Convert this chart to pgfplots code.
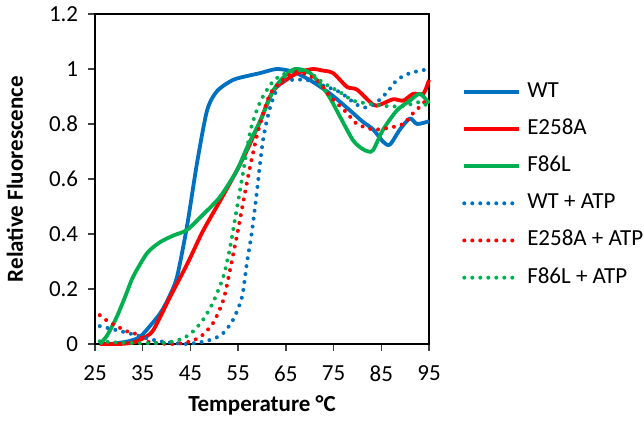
\documentclass[border=0pt]{standalone}
\usepackage{pgfplots}
\pgfplotsset{compat=1.18}
\usepackage{fontspec}
\setmainfont{Carlito}
\definecolor{cblue}{HTML}{0070C0}
\definecolor{cred}{HTML}{FF0000}
\definecolor{cgreen}{HTML}{00B050}
\definecolor{axgray}{HTML}{404040}
\begin{document}
\fontsize{23}{27}\selectfont
\begin{tikzpicture}[x=1pt,y=1pt]
\useasboundingbox (0,0) rectangle (644,426);
\begin{axis}[
  at={(95pt,82pt)}, anchor=south west,
  scale only axis, width=334pt, height=330pt,
  xmin=25, xmax=95, ymin=0, ymax=1.2,
  xtick={25,35,...,95},
  ytick={0,0.2,...,1.2},
  yticklabels={0,0.2,0.4,0.6,0.8,1,1.2},
  tick pos=left, tick align=outside, major tick length=7pt,
  axis line style={black, line width=1.4pt},
  every tick/.style={axgray, line width=1.4pt},
  /pgf/number format/assume math mode=true,
  ticklabel style={font=\fontsize{23}{27}\selectfont},
  xticklabel style={yshift=-7pt},
  yticklabel style={xshift=-2pt},
  clip=false,
  xlabel={\textbf{Temperature °C}},
  ylabel={\textbf{Relative Fluorescence}},
  xlabel style={at={(axis description cs:0.5,-0.185)}, anchor=center, font=\fontsize{23}{27}\selectfont},
  ylabel style={at={(axis description cs:-0.24,0.5)}, anchor=center, font=\fontsize{23}{27}\selectfont},
  legend style={at={(1.099,0.797)}, anchor=north west, draw=none, fill=none, inner sep=0pt,
     row sep=16.2pt, column sep=6pt, font=\fontsize{23}{27}\selectfont,
     nodes={inner sep=0pt, text height=16pt, text depth=5pt}},
  legend cell align=left,
  legend image code/.code={\draw[#1] (0pt,0pt) -- (55pt,0pt);},
  solidl/.style={line width=3.8pt, smooth, tension=0.45, line join=round},
  dotl/.style={line width=4pt, smooth, tension=0.45, line cap=round, dash pattern=on 0pt off 8pt},
]
\addplot[cblue, solidl] coordinates {(26,0) (28,0) (30,0.004) (32,0.01) (33.8,0.02) (35,0.035) (38.6,0.11) (40.5,0.17) (42.2,0.245) (44.3,0.43) (46.4,0.66) (48.5,0.85) (50.6,0.92) (53.9,0.96) (57,0.975) (59.6,0.985) (63.1,1.0) (66.5,0.99) (70,0.96) (74.3,0.91) (78.4,0.85) (81,0.81) (83.3,0.78) (85.4,0.735) (86.8,0.725) (88.9,0.78) (91,0.82) (92.5,0.80) (95,0.81)};
\addlegendentry{WT}
\addplot[cred, solidl] coordinates {(26,0) (30,0) (33,0.005) (35,0.02) (37.2,0.05) (40.7,0.17) (44.3,0.29) (47.6,0.41) (51.2,0.52) (54.7,0.63) (57,0.71) (59.6,0.81) (62.3,0.92) (65.9,0.97) (68,0.99) (70.7,1.0) (72.5,0.995) (74.9,0.985) (77.8,0.935) (79.9,0.925) (83.3,0.87) (84.7,0.87) (87.5,0.89) (89.6,0.885) (91.7,0.91) (93.8,0.91) (95,0.96)};
\addlegendentry{E258A}
\addplot[cgreen, solidl] coordinates {(26,0) (27.5,0.03) (29.6,0.1) (31.5,0.18) (33,0.245) (35.9,0.33) (38.6,0.37) (41.5,0.395) (44.3,0.415) (47.6,0.47) (51.2,0.535) (54.7,0.63) (57,0.72) (59.6,0.81) (62.3,0.92) (64.5,0.97) (66.9,1.0) (70.1,0.985) (73.7,0.91) (76.4,0.825) (79.1,0.74) (81,0.71) (82.3,0.70) (83.3,0.705) (85.4,0.78) (88.3,0.85) (91,0.885) (93.1,0.91) (95,0.875)};
\addlegendentry{F86L}
\addplot[cblue, dotl] coordinates {(26,0.065) (29.6,0.05) (33,0.035) (36,0.02) (38.6,0.01) (42,0.003) (44.3,0) (47.6,0.008) (50,0.02) (51.9,0.04) (53.9,0.087) (55.8,0.17) (56.8,0.29) (57.9,0.41) (58.9,0.55) (60.2,0.74) (61.7,0.86) (63.8,0.95) (65.9,0.96) (69.4,0.96) (72.8,0.94) (76.4,0.915) (79.9,0.87) (82,0.86) (84.1,0.88) (86.2,0.915) (88.3,0.96) (91,0.985) (95,1.0)};
\addlegendentry{WT + ATP}
\addplot[cred, dotl] coordinates {(26,0.105) (27.5,0.085) (29,0.07) (31.7,0.046) (33.8,0.035) (35.9,0.01) (38,0.003) (41,0) (44,0.005) (47,0.025) (49.7,0.075) (51.9,0.16) (53.3,0.27) (54.7,0.39) (56,0.51) (57.5,0.645) (58.9,0.755) (59.6,0.8) (61.7,0.91) (64.4,0.96) (67.3,0.99) (71.5,0.96) (74.3,0.9) (77.8,0.84) (79.9,0.80) (83.3,0.78) (86.2,0.785) (89.6,0.80) (91.7,0.84) (93.5,0.87) (95,0.90)};
\addlegendentry{E258A + ATP}
\addplot[cgreen, dotl] coordinates {(26,0.01) (30,0.005) (35,0.003) (40,0.005) (43.4,0.02) (45.5,0.045) (47.6,0.087) (49.7,0.15) (51.9,0.245) (53.3,0.35) (54.7,0.49) (56,0.62) (57.5,0.77) (58.9,0.85) (60.2,0.9) (62.3,0.955) (64.4,0.98) (67.3,0.995) (70.1,0.985) (72.8,0.95) (76.4,0.915) (79.1,0.885) (82,0.875) (86.2,0.865) (89.6,0.865) (93.1,0.88) (95,0.86)};
\addlegendentry{F86L + ATP}
\end{axis}
\end{tikzpicture}
\end{document}
